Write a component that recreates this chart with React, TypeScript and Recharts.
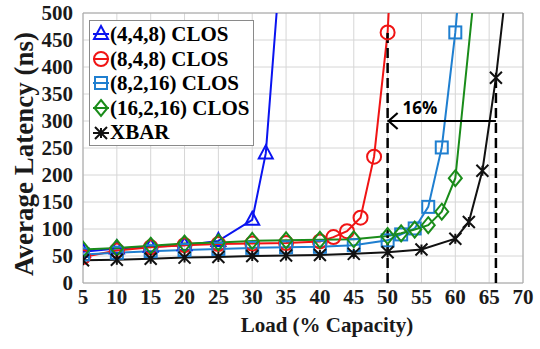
import React from 'react';
import {
  LineChart,
  Line,
  XAxis,
  YAxis,
  CartesianGrid,
  Legend,
  ReferenceLine,
  ReferenceDot,
  ReferenceArea,
} from 'recharts';

// ---- tick labels ----
const xTicks = [5, 10, 15, 20, 25, 30, 35, 40, 45, 50, 55, 60, 65, 70];
const yTicks = [0, 50, 100, 150, 200, 250, 300, 350, 400, 450, 500];

// ---- series names ----
const seriesNames = ['(4,4,8) CLOS', '(8,4,8) CLOS', '(8,2,16) CLOS', '(16,2,16) CLOS', 'XBAR'];

// ---- (4,4,8) CLOS ----
const loads448 = [5, 10, 15, 20, 25, 30, 32, 34];
const latency448 = [58, 64, 67, 70, 78, 117, 240, 565];

// ---- (8,4,8) CLOS ----
const loads848 = [5, 10, 15, 20, 25, 30, 35, 40, 42, 44, 46, 48, 50, 52];
const latency848 = [48, 60, 66, 70, 72, 73, 74, 77, 85, 96, 121, 234, 464, 944];

// ---- (8,2,16) CLOS ----
const loads8216 = [5, 10, 15, 20, 25, 30, 35, 40, 45, 50, 52, 54, 56, 58, 60, 62];
const latency8216 = [53, 56, 59, 61, 63, 65, 66, 67, 70, 79, 90, 101, 141, 251, 464, 750];

// ---- (16,2,16) CLOS ----
const loads16216 = [5, 10, 15, 20, 25, 30, 35, 40, 45, 50, 52, 54, 56, 58, 60, 64];
const latency16216 = [62, 65, 69, 73, 75, 78, 79, 80, 81, 87, 92, 99, 107, 132, 194, 685];

// ---- XBAR ----
const loadsXbar = [5, 10, 15, 20, 25, 30, 35, 40, 45, 50, 55, 60, 62, 64, 66, 68];
const latencyXbar = [42, 43, 45, 47, 48, 50, 51, 52, 54, 57, 62, 82, 113, 208, 380, 600];

// ---- annotation values ----
const saturationClos = 50;
const saturationXbar = 66;
const closTopLatency = 464;
const xbarTopLatency = 380;
const arrowLatency = 300;
const gainLabel = '16%';

const toPoints = (xs: number[], ys: number[]) => xs.map((x, i) => ({ load: x, latency: ys[i] }));

type MarkerKind = 'triangle' | 'circle' | 'square' | 'diamond' | 'star';

const seriesDefs: { name: string; color: string; marker: MarkerKind; data: { load: number; latency: number }[] }[] = [
  { name: seriesNames[0], color: '#0a14f0', marker: 'triangle', data: toPoints(loads448, latency448) },
  { name: seriesNames[1], color: '#f01414', marker: 'circle', data: toPoints(loads848, latency848) },
  { name: seriesNames[2], color: '#1f7fd0', marker: 'square', data: toPoints(loads8216, latency8216) },
  { name: seriesNames[3], color: '#1a8c1a', marker: 'diamond', data: toPoints(loads16216, latency16216) },
  { name: seriesNames[4], color: '#111111', marker: 'star', data: toPoints(loadsXbar, latencyXbar) },
];

const markerFor = (kind: MarkerKind, cx: number, cy: number, color: string, key?: any) => {
  const sw = 2;
  switch (kind) {
    case 'triangle':
      return (
        <path key={key} d={`M${cx},${cy - 8} L${cx + 7},${cy + 5} L${cx - 7},${cy + 5} Z`} fill="none" stroke={color} strokeWidth={sw} />
      );
    case 'circle':
      return <circle key={key} cx={cx} cy={cy} r={7} fill="none" stroke={color} strokeWidth={sw} />;
    case 'square':
      return <rect key={key} x={cx - 6} y={cy - 6} width={12} height={12} fill="none" stroke={color} strokeWidth={sw} />;
    case 'diamond':
      return (
        <path key={key} d={`M${cx},${cy - 8} L${cx + 6.5},${cy} L${cx},${cy + 8} L${cx - 6.5},${cy} Z`} fill="none" stroke={color} strokeWidth={sw} />
      );
    case 'star':
    default:
      return (
        <path
          key={key}
          d={`M${cx - 6},${cy - 6} L${cx + 6},${cy + 6} M${cx - 6},${cy + 6} L${cx + 6},${cy - 6} M${cx},${cy - 5} L${cx},${cy + 5}`}
          fill="none"
          stroke={color}
          strokeWidth={sw}
        />
      );
  }
};

const makeDot = (kind: MarkerKind, color: string) => (props: any) => {
  const { cx, cy, index } = props;
  if (cx == null || cy == null || isNaN(cx) || isNaN(cy)) return <g key={`e-${index}`} />;
  return markerFor(kind, cx, cy, color, `m-${index}`);
};

const serifFont = '"Liberation Serif", "Times New Roman", serif';

const LegendBox = (props: any) => {
  const payload = props.payload || [];
  const names = payload.map((p: any) => p.value);
  const ordered = seriesDefs.filter((s) => names.length === 0 || names.includes(s.name));
  return (
    <div
      style={{
        border: '1px solid #8a8a8a',
        background: '#ffffff',
        padding: '1px 4px 0px 2px',
        fontFamily: serifFont,
        fontWeight: 'bold',
        fontSize: 21,
        color: '#000',
        lineHeight: '24.6px',
      }}
    >
      {ordered.map((def, i) => (
        <div key={i} style={{ display: 'flex', alignItems: 'center', whiteSpace: 'nowrap' }}>
          <svg width={18} height={20}>
            <line x1={1} y1={10} x2={17} y2={10} stroke={def.color} strokeWidth={2} />
            {markerFor(def.marker, 9, 10, def.color)}
          </svg>
          <span>{def.name}</span>
        </div>
      ))}
    </div>
  );
};

const arrowShape = (props: any) => {
  const { cx, cy } = props;
  if (cx == null || cy == null) return <g />;
  return (
    <g>
      <path d={`M${cx + 10},${cy - 8} L${cx + 1},${cy} L${cx + 10},${cy + 8}`} fill="none" stroke="#000" strokeWidth={2.2} />
      <text
        x={cx + 15}
        y={cy - 7}
        fontFamily='"Open Sans", "Liberation Sans", sans-serif'
        fontWeight="bold"
        fontSize={17}
        fill="#000"
      >
        {gainLabel}
      </text>
    </g>
  );
};

const tickStyle = { fontFamily: serifFont, fontWeight: 'bold' as const, fontSize: 21, fill: '#1a1a1a' };

export default function App() {
  return (
    <div style={{ position: 'absolute', left: 0, top: 0, width: 540, height: 349, background: '#fff' }}>
      <LineChart width={540} height={349} margin={{ top: 13, right: 17, bottom: 0, left: 0 }}>
        <CartesianGrid stroke="#d6d6d6" strokeWidth={1} />
        <ReferenceArea x1={5} x2={70} y1={0} y2={500} fill="none" stroke="#a6a6a6" strokeWidth={1} />
        <XAxis
          type="number"
          dataKey="load"
          domain={[5, 70]}
          ticks={xTicks}
          allowDataOverflow
          height={66}
          axisLine={false}
          tickLine={false}
          tickMargin={0}
          tick={tickStyle}
          interval={0}
          label={(p: any) => {
            const vb = p.viewBox || { x: 83, y: 283, width: 440, height: 66 };
            return (
              <text
                x={vb.x + vb.width / 2 + 24}
                y={vb.y + 49}
                textAnchor="middle"
                fontFamily={serifFont}
                fontWeight="bold"
                fontSize={21}
                fill="#1a1a1a"
              >
                Load (% Capacity)
              </text>
            );
          }}
        />
        <YAxis
          type="number"
          domain={[0, 500]}
          ticks={yTicks}
          allowDataOverflow
          width={83}
          axisLine={false}
          tickLine={false}
          tickMargin={4}
          tick={tickStyle}
          interval={0}
          label={(p: any) => {
            const vb = p.viewBox || { x: 0, y: 13, width: 83, height: 270 };
            const cx = vb.x + 24;
            const cy = vb.y + vb.height / 2 + 6;
            return (
              <text
                transform={`translate(${cx}, ${cy}) rotate(-90)`}
                textAnchor="middle"
                dominantBaseline="central"
                fontFamily={serifFont}
                fontWeight="bold"
                fontSize={27}
                fill="#1a1a1a"
              >
                Average Latency (ns)
              </text>
            );
          }}
        />
        <Legend
          layout="vertical"
          align="center"
          verticalAlign="middle"
          content={<LegendBox />}
          wrapperStyle={{ position: 'absolute', left: 89, top: 20, width: 'auto', height: 'auto' }}
        />
        {seriesDefs.map((s) => (
          <Line
            key={s.name}
            data={s.data}
            dataKey="latency"
            name={s.name}
            stroke={s.color}
            strokeWidth={2}
            dot={makeDot(s.marker, s.color)}
            activeDot={false}
            isAnimationActive={false}
          />
        ))}
        <ReferenceLine
          segment={[
            { x: saturationClos, y: 0 },
            { x: saturationClos, y: closTopLatency },
          ]}
          stroke="#000"
          strokeWidth={2.5}
          strokeDasharray="10 5"
        />
        <ReferenceLine
          segment={[
            { x: saturationXbar, y: 0 },
            { x: saturationXbar, y: xbarTopLatency },
          ]}
          stroke="#000"
          strokeWidth={2.5}
          strokeDasharray="10 5"
        />
        <ReferenceLine
          segment={[
            { x: saturationClos, y: arrowLatency },
            { x: saturationXbar, y: arrowLatency },
          ]}
          stroke="#000"
          strokeWidth={2.2}
        />
        <ReferenceDot x={saturationClos} y={arrowLatency} r={0} shape={arrowShape} />
      </LineChart>
    </div>
  );
}
